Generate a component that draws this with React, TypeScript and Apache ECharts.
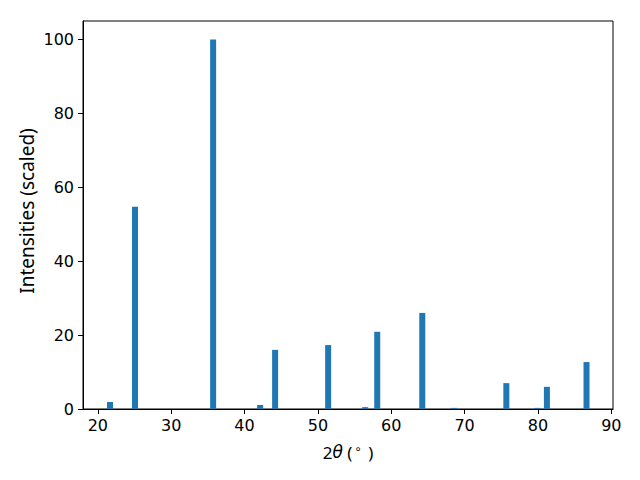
import React, { useEffect, useRef } from "react";
import * as echarts from "echarts";

const positions = [21.66, 25.07, 35.72, 42.13, 44.17, 51.4, 56.45, 58.09, 64.23, 68.59, 75.69, 79.92, 81.22, 86.62];
const intensities = [1.9, 54.7, 100, 1.1, 16.0, 17.3, 0.5, 20.9, 26.0, 0.3, 7.0, 0.3, 6.0, 12.7];
const xTicks = [20, 30, 40, 50, 60, 70, 80, 90];
const yTicks = [0, 20, 40, 60, 80, 100];

const FONT = "DejaVu Sans";
const LFONT = "Noto Sans";

export default function App() {
  const ref = useRef<HTMLDivElement>(null);
  useEffect(() => {
    if (!ref.current) return;
    const chart = echarts.init(ref.current, null, { renderer: "svg" });
    chart.setOption({
      animation: false,
      backgroundColor: "#ffffff",
      grid: {
        left: 83,
        top: 21,
        width: 530,
        height: 388,
        show: true,
        borderColor: "#000000",
        borderWidth: 1,
        containLabel: false,
      },
      xAxis: {
        type: "value",
        min: 17.98,
        max: 90.23,
        splitLine: { show: false },
        axisLine: { show: true, onZero: false, lineStyle: { color: "#000", width: 1 } },
        axisTick: { show: true, inside: false, length: 5, lineStyle: { color: "#000", width: 1 }, customValues: xTicks },
        axisLabel: { customValues: xTicks, color: "#000", fontFamily: FONT, fontSize: 16, margin: 8 },
      },
      yAxis: {
        type: "value",
        min: 0,
        max: 105,
        splitLine: { show: false },
        axisLine: { show: true, lineStyle: { color: "#000", width: 1 } },
        axisTick: { show: true, inside: false, length: 5, lineStyle: { color: "#000", width: 1 }, customValues: yTicks },
        axisLabel: { customValues: yTicks, color: "#000", fontFamily: FONT, fontSize: 16, margin: 9 },
      },
      series: [
        {
          type: "bar",
          data: positions.map((p, i) => [p, intensities[i]]),
          barWidth: 6,
          itemStyle: { color: "#1f77b4" },
        },
      ],
      graphic: [
        {
          type: "text",
          x: 348,
          y: 452,
          style: {
            text: "{n|2}{i|θ}{n| (}{s|∘}{n| )}",
            align: "center",
            verticalAlign: "middle",
            fill: "#000",
            rich: {
              n: { fontFamily: LFONT, fontSize: 17, fill: "#000" },
              i: { fontFamily: FONT, fontSize: 17, fontStyle: "italic", fill: "#000" },
              s: { fontFamily: FONT, fontSize: 12, fill: "#000", verticalAlign: "top", padding: [0, 2, 7, 2] },
            },
          },
        },
        {
          type: "text",
          x: 27,
          y: 211,
          rotation: Math.PI / 2,
          style: {
            text: "Intensities (scaled)",
            align: "center",
            verticalAlign: "middle",
            fontFamily: LFONT,
            fontSize: 19,
            fill: "#000",
          },
        },
      ],
    });
    return () => chart.dispose();
  }, []);
  return <div ref={ref} style={{ width: 640, height: 480, position: "absolute", left: 0, top: 0 }} />;
}
